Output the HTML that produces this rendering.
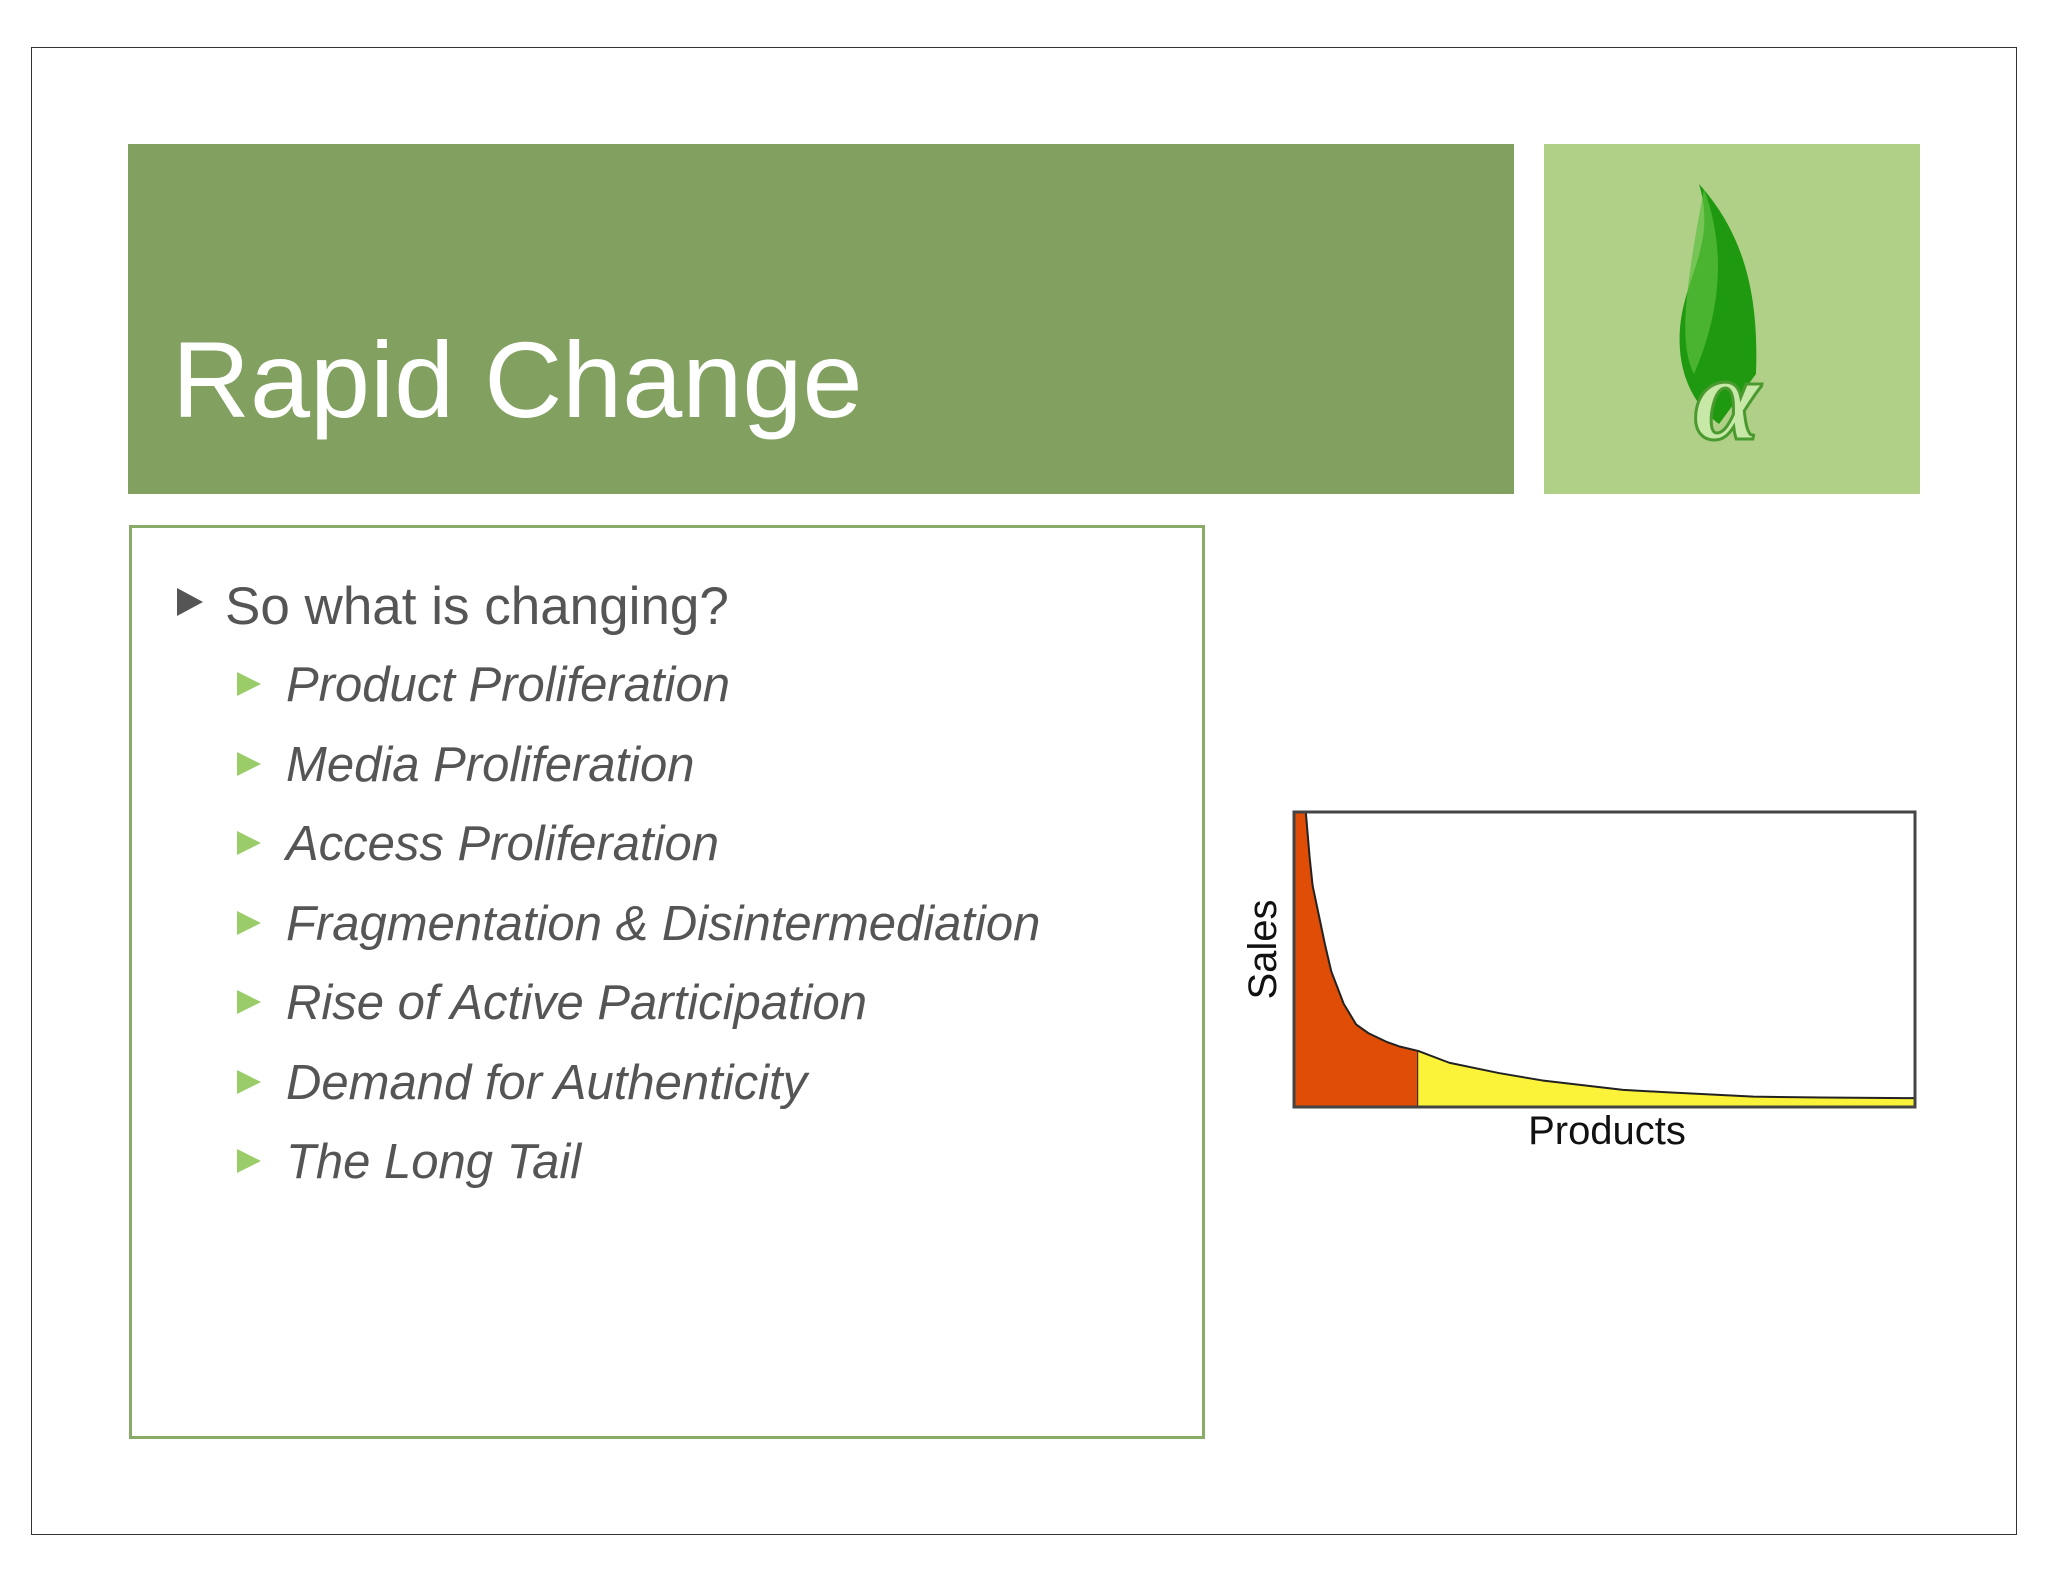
<!DOCTYPE html>
<html><head><meta charset="utf-8">
<style>
html,body{margin:0;padding:0;background:#fff;}
#page{position:relative;width:2048px;height:1582px;overflow:hidden;background:#fff;font-family:"Liberation Sans",sans-serif;}
.abs{position:absolute;}
.sub{position:absolute;left:286px;font-style:italic;font-size:49px;color:#555;white-space:nowrap;line-height:1;}
.tri{position:absolute;left:237px;width:0;height:0;border-top:12px solid transparent;border-bottom:12px solid transparent;border-left:24px solid #9acd6a;}
</style></head><body>
<div id="page">
  <div class="abs" style="left:31px;top:47px;width:1984px;height:1486px;border:1.5px solid #333;"></div>
  <div class="abs" style="left:128px;top:144px;width:1386px;height:350px;background:#82a060;"></div>
  <div class="abs" style="left:172px;top:326px;font-size:108px;color:#fff;line-height:1;white-space:nowrap;">Rapid Change</div>
  <div class="abs" style="left:1544px;top:144px;width:376px;height:350px;background:#b0d088;">
    <svg width="376" height="350">
      <path d="M155 40 C200 90 215 150 212 230 L175 280 C135 250 130 200 140 160 C150 120 170 90 155 40Z" fill="#1f9a10"/>
      <path d="M160 45 C180 100 180 160 150 230 C135 200 140 150 160 45Z" fill="#5cbf40" opacity="0.7"/>
      <text x="150" y="295" font-family="Liberation Serif,serif" font-size="120" font-style="italic" font-weight="bold" fill="#c8e8a8" stroke="#4a9a30" stroke-width="3">α</text>
    </svg>
  </div>
  <div class="abs" style="left:129px;top:525px;width:1070px;height:908px;border:3px solid #8aaa68;"></div>
  <div class="abs" style="left:177px;top:588px;width:0;height:0;border-top:14px solid transparent;border-bottom:14px solid transparent;border-left:26px solid #555;"></div>
  <div class="abs" style="left:225px;top:580px;font-size:53px;color:#555;white-space:nowrap;line-height:1;">So what is changing?</div>

  <div class="tri" style="top:672px"></div>
  <div class="sub" style="top:661px">Product Proliferation</div>
  <div class="tri" style="top:752px"></div>
  <div class="sub" style="top:741px">Media Proliferation</div>
  <div class="tri" style="top:831px"></div>
  <div class="sub" style="top:820px">Access Proliferation</div>
  <div class="tri" style="top:911px"></div>
  <div class="sub" style="top:900px">Fragmentation &amp; Disintermediation</div>
  <div class="tri" style="top:990px"></div>
  <div class="sub" style="top:979px">Rise of Active Participation</div>
  <div class="tri" style="top:1070px"></div>
  <div class="sub" style="top:1059px">Demand for Authenticity</div>
  <div class="tri" style="top:1149px"></div>
  <div class="sub" style="top:1138px">The Long Tail</div>

  <svg class="abs" id="chart" style="left:0;top:0" width="2048" height="1582"></svg>
</div>
<script>
const productPct = [0, 1.9, 2.5, 3, 4, 5, 6, 8, 10, 12, 15, 17, 20, 25, 33, 40, 53, 60, 74, 85, 100];
const salesPct   = [100, 100, 85, 75, 65, 55, 46, 35, 28, 25, 22, 20.5, 19, 15, 11.5, 9, 5.8, 5, 3.5, 3.2, 3];
const headCutoff = 20;
const axisLabels = ["Sales", "Products"];

const L=1294,T=812,R=1915,B=1107;
const xs=v=>L+(R-L)*v/100, ys=v=>B-(B-T)*v/100;
const svg=document.getElementById('chart');
const NS='http://www.w3.org/2000/svg';
function mk(tag,attrs){const e=document.createElementNS(NS,tag);for(const k in attrs)e.setAttribute(k,attrs[k]);svg.appendChild(e);return e;}
function valAt(x){for(let i=1;i<productPct.length;i++){if(x<=productPct[i]){const t=(x-productPct[i-1])/(productPct[i]-productPct[i-1]);return salesPct[i-1]+t*(salesPct[i]-salesPct[i-1]);}}return salesPct[salesPct.length-1];}
function curvePts(a,b){const p=[];productPct.forEach((x,i)=>{if(x>a&&x<b)p.push([x,salesPct[i]]);});p.unshift([a,valAt(a)]);p.push([b,valAt(b)]);return p;}
function line(p){return p.map(q=>` L${xs(q[0])},${ys(q[1])}`).join('');}
const frame=mk('rect',{x:L,y:T,width:R-L,height:B-T,fill:'#fff',stroke:'none'});


const hp=curvePts(0,headCutoff);
const head=mk('path',{d:`M${xs(0)},${ys(0)}`+line(hp)+` L${xs(headCutoff)},${ys(0)} Z`,fill:'#e04d06',stroke:'none'});


const sep=mk('line',{x1:xs(headCutoff),y1:ys(0),x2:xs(headCutoff),y2:ys(valAt(headCutoff)),stroke:'#222','stroke-width':2});


const tp=curvePts(headCutoff,100);
const tail=mk('path',{d:`M${xs(headCutoff)},${ys(0)}`+line(tp)+` L${xs(100)},${ys(0)} Z`,fill:'#fbf23a',stroke:'none'});


const cp=curvePts(1.9,100);
const curve=mk('path',{d:`M${xs(cp[0][0])},${ys(cp[0][1])}`+line(cp.slice(1)),fill:'none',stroke:'#222','stroke-width':2,'stroke-linejoin':'round'});


const border=mk('rect',{x:L,y:T,width:R-L,height:B-T,fill:'none',stroke:'#444','stroke-width':3});


const yl=mk('text',{x:0,y:0,transform:`translate(1276,${(T+B)/2-10}) rotate(-90)`,'text-anchor':'middle','font-size':40,'font-family':'Liberation Sans, sans-serif',fill:'#111'});
yl.textContent=axisLabels[0];


const xl=mk('text',{x:1607,y:1144,'text-anchor':'middle','font-size':40,'font-family':'Liberation Sans, sans-serif',fill:'#111'});
xl.textContent=axisLabels[1];


</script>
</body></html>
